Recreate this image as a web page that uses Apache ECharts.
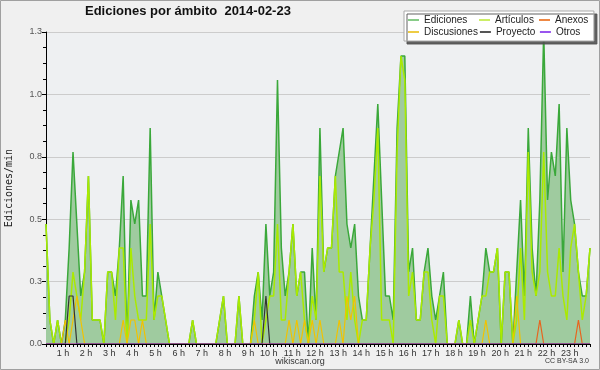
<!DOCTYPE html>
<html><head><meta charset="utf-8">
<script src="https://cdn.jsdelivr.net/npm/echarts@6/dist/echarts.min.js"></script>
<style>html,body{margin:0;padding:0;background:#f0f0f0}#c{width:600px;height:370px}</style>
</head><body><div id="c"></div>
<script>
// 10-minute slots from 00:00 (142 samples)
const slots = [];
for (let k = 0; k < 142; k++) slots.push(String(Math.floor(k / 6)).padStart(2,'0') + ':' + String((k % 6) * 10).padStart(2,'0'));

const hourLabels = ['1 h','2 h','3 h','4 h','5 h','6 h','7 h','8 h','9 h','10 h','11 h','12 h',
  '13 h','14 h','15 h','16 h','17 h','18 h','19 h','20 h','21 h','22 h','23 h'];

const ediciones = [
0.5,0.1,0,0.1,0,0.1,0.4,0.8,0.5,0.2, 0.3,0.7,0.1,0.1,0.1,0,0.3,0.3,0.2,0.4,
0.7,0,0.6,0.5,0.6,0.2,0.2,0.9,0.1,0.3, 0.2,0.1,0,0,0,0,0,0,0.1,0,
0,0,0,0,0,0.1,0.2,0,0,0, 0.2,0,0,0,0.2,0.3,0.1,0.5,0.2,0.3,
1.1,0.4,0.2,0.3,0.5,0.2,0.3,0.3,0,0.4, 0.1,0.9,0.3,0.4,0.4,0.7,0.8,0.9,0.5,0.4,
0.5,0.2,0.1,0.1,0.4,0.7,1.0,0.6,0.2,0.2, 0.1,0.9,1.2,1.2,0.3,0.4,0.1,0.1,0.3,0.4,
0.2,0.1,0.2,0.3,0,0,0,0.1,0,0, 0.2,0,0.1,0.2,0.4,0.3,0.3,0.4,0,0.3,
0.3,0,0.3,0.6,0.2,0.9,0.4,0.2,0.6,1.3, 0.6,0.8,0.7,1.0,0.3,0.9,0.6,0.5,0.3,0.2,
0.2,0.4];

const articulos = [
0.5,0.1,0,0.1,0,0,0.1,0.3,0.2,0.1, 0.3,0.7,0.1,0.1,0.1,0,0.3,0.3,0.1,0.4,
0.4,0,0.4,0.2,0.1,0.1,0.1,0.5,0.1,0.2, 0.2,0.1,0,0,0,0,0,0,0.1,0,
0,0,0,0,0,0.1,0.2,0,0,0, 0.2,0,0,0,0.1,0.3,0,0.1,0.2,0.2,
0.5,0.1,0.1,0.3,0.5,0.2,0.3,0.1,0,0.2, 0.1,0.7,0.3,0.4,0.4,0.7,0.3,0.3,0.1,0.3,
0.1,0,0.1,0.1,0.4,0.6,0.9,0.1,0.1,0.1, 0,0.8,1.2,1.1,0.2,0.3,0.1,0.1,0.3,0.3,
0.1,0,0.2,0.2,0,0,0,0.1,0,0, 0.1,0,0.1,0.2,0.2,0.3,0.3,0.4,0,0.3,
0.3,0,0.1,0.4,0.1,0.8,0.3,0.2,0.3,0.8, 0.3,0.2,0.2,0.4,0.2,0.1,0.4,0.5,0.3,0.1,
0.2,0.4];

const discusiones = [
0,0,0,0,0,0.1,0,0.1,0.2,0.1, 0,0,0,0,0,0,0,0,0,0,
0.1,0,0.1,0.1,0,0.1,0,0,0,0, 0,0,0,0,0,0,0,0,0,0,
0,0,0,0,0,0,0,0,0,0, 0,0,0,0,0.1,0,0,0,0,0,
0,0,0,0.1,0,0.1,0,0.1,0,0.1, 0,0.1,0,0,0,0,0.1,0,0.2,0.1,
0.2,0,0,0,0,0,0,0,0,0, 0,0,0,0,0,0,0,0,0,0,
0,0,0,0,0,0,0,0,0,0, 0,0,0,0,0.1,0,0,0,0,0,
0,0,0.2,0,0,0,0,0,0,0, 0,0,0,0,0,0,0,0,0,0,
0,0];

const anexos = [
0,0,0,0,0,0,0,0,0,0, 0,0,0,0,0,0,0,0,0,0,
0,0,0,0,0,0,0,0,0,0, 0,0,0,0,0,0,0,0,0,0,
0,0,0,0,0,0,0,0,0,0, 0,0,0,0,0,0,0,0,0,0,
0,0,0,0,0,0,0,0,0,0, 0,0,0,0,0,0,0,0,0,0,
0,0,0,0,0,0,0,0,0,0, 0,0,0,0,0,0,0,0,0,0,
0,0,0,0,0,0,0,0,0,0, 0,0,0,0,0,0,0,0,0,0,
0,0,0,0,0,0,0,0,0.1,0, 0,0,0,0,0,0,0,0,0.1,0,
0,0];

const proyecto = [
0,0,0,0,0,0,0.2,0.2,0,0, 0,0,0,0,0,0,0,0,0,0,
0,0,0,0,0,0,0,0,0,0, 0,0,0,0,0,0,0,0,0,0,
0,0,0,0,0,0,0,0,0,0, 0,0,0,0,0,0,0,0.2,0,0,
0,0,0,0,0,0,0,0,0,0, 0,0,0,0,0,0,0,0,0,0,
0,0,0,0,0,0,0,0,0,0, 0,0,0,0,0,0,0,0,0,0,
0,0,0,0,0,0,0,0,0,0, 0,0,0,0,0,0,0,0,0,0,
0,0,0,0,0,0,0,0,0,0, 0,0,0,0,0,0,0,0,0,0,
0,0];

const otros = [
0,0,0,0,0,0,0,0,0,0, 0,0,0,0,0,0,0,0,0,0,
0,0,0,0,0,0,0,0,0,0, 0,0,0,0,0,0,0,0,0,0,
0,0,0,0,0,0,0,0,0,0, 0,0,0,0,0,0,0,0,0,0,
0,0,0,0,0,0,0,0,0,0, 0,0,0,0,0,0,0,0,0,0,
0,0,0,0,0,0,0,0,0,0, 0,0,0,0,0,0,0,0,0,0,
0,0,0,0,0,0,0,0,0,0, 0,0,0,0,0,0,0,0,0,0,
0,0,0,0,0,0,0,0,0,0, 0,0,0,0,0,0,0,0,0,0,
0,0];

const legendColors = {Ediciones:'#88cc88', 'Artículos':'#ccee66', Anexos:'#ee8844', Discusiones:'#eecc44', Proyecto:'#555555', Otros:'#9955ee'};
const colKey = {Ediciones:'a', Discusiones:'a', 'Artículos':'b', Proyecto:'b', Anexos:'c', Otros:'c'};
const legendOrder = ['Ediciones','Artículos','Anexos','Discusiones','Proyecto','Otros'];

function line(name, data, color, width, extra) {
  return Object.assign({name, type:'line', data, symbol:'none', showSymbol:false,
    lineStyle:{color, width}, itemStyle:{color}, emphasis:{disabled:true}, silent:true}, extra || {});
}

const chart = echarts.init(document.getElementById('c'), null, {renderer:'canvas'});
chart.setOption({
  animation:false,
  backgroundColor:'#f0f0f0',
  textStyle:{fontFamily:'Liberation Sans'},
  title:{text:'Ediciones por ámbito  2014-02-23', left:85, top:5, padding:0,
    textStyle:{fontSize:13, fontWeight:'bold', color:'#111', fontFamily:'Liberation Sans'}},
  legend:{left:404, top:11, width:183, padding:[4,4,4,4], itemGap:2, itemWidth:11, itemHeight:2, icon:'rect',
    backgroundColor:'#ffffff', borderColor:'#aaaaaa', borderWidth:1,
    shadowColor:'rgba(80,80,80,0.9)', shadowOffsetX:3, shadowOffsetY:3, shadowBlur:0,
    selectedMode:false,
    data: legendOrder.map(n => ({name:n, itemStyle:{color:legendColors[n]}})),
    formatter: n => '{' + colKey[n] + '|' + n + '}',
    textStyle:{fontSize:10, color:'#222', lineHeight:8, padding:[0,0,0,0],
      rich:{a:{width:53, fontSize:10, lineHeight:8}, b:{width:42, fontSize:10, lineHeight:8}, c:{width:34, fontSize:10, lineHeight:8}}}
  },
  grid:{left:46, right:10, top:32, bottom:26, show:true, backgroundColor:'#eef0f2', borderWidth:0,
    containLabel:false, outerBoundsMode:'none'},
  xAxis:{type:'category', data:slots, boundaryGap:false, z:5,
     axisLine:{lineStyle:{color:'#000', width:1}},
     axisTick:{interval:0, length:3, lineStyle:{color:'#000'}},
     axisLabel:{interval: (i) => i > 0 && i % 6 === 0,
       formatter: (v, i) => hourLabels[i / 6 - 1] || '',
       align:'right', fontSize:9, color:'#333', margin:5},
     splitLine:{show:false}},
  yAxis:{type:'value', min:0, max:1.3, interval:0.26,
    name:'Ediciones/min', nameLocation:'middle', nameGap:32, nameRotate:90,
    nameTextStyle:{fontFamily:'DejaVu Sans Mono', fontSize:10, color:'#222'},
    axisLine:{show:true, lineStyle:{color:'#000'}},
    axisTick:{show:true, length:4, lineStyle:{color:'#000'}},
    minorTick:{show:true, splitNumber:4, length:3, lineStyle:{color:'#000'}},
    axisLabel:{formatter: v => v.toFixed(1), fontSize:9, color:'#555', margin:4},
    splitLine:{lineStyle:{color:'#cccccc', width:1}}},
  series:[
    line('Ediciones', ediciones, '#3aa83a', 1.5, {areaStyle:{color:'#9fcb9f', opacity:1}}),
    line('Artículos', articulos, '#aaea00', 1.5),
    line('Discusiones', discusiones, '#f2c200', 1.2),
    line('Anexos', anexos, '#e8641e', 1.2),
    line('Proyecto', proyecto, '#333333', 1.2),
    line('Otros', otros, '#9944ee', 1)
  ],
  graphic:[
    {type:'rect', shape:{x:0.5, y:0.5, width:599, height:369}, style:{fill:'none', stroke:'#a0a0a0', lineWidth:1}, silent:true},
    {type:'text', left:'center', top:357, style:{text:'wikiscan.org', fontSize:9, fill:'#333', fontFamily:'Liberation Sans'}},
    {type:'text', right:11, top:358, style:{text:'CC BY-SA 3.0', fontSize:7, fill:'#333', fontFamily:'Liberation Sans'}}
  ]
});
</script></body></html>
